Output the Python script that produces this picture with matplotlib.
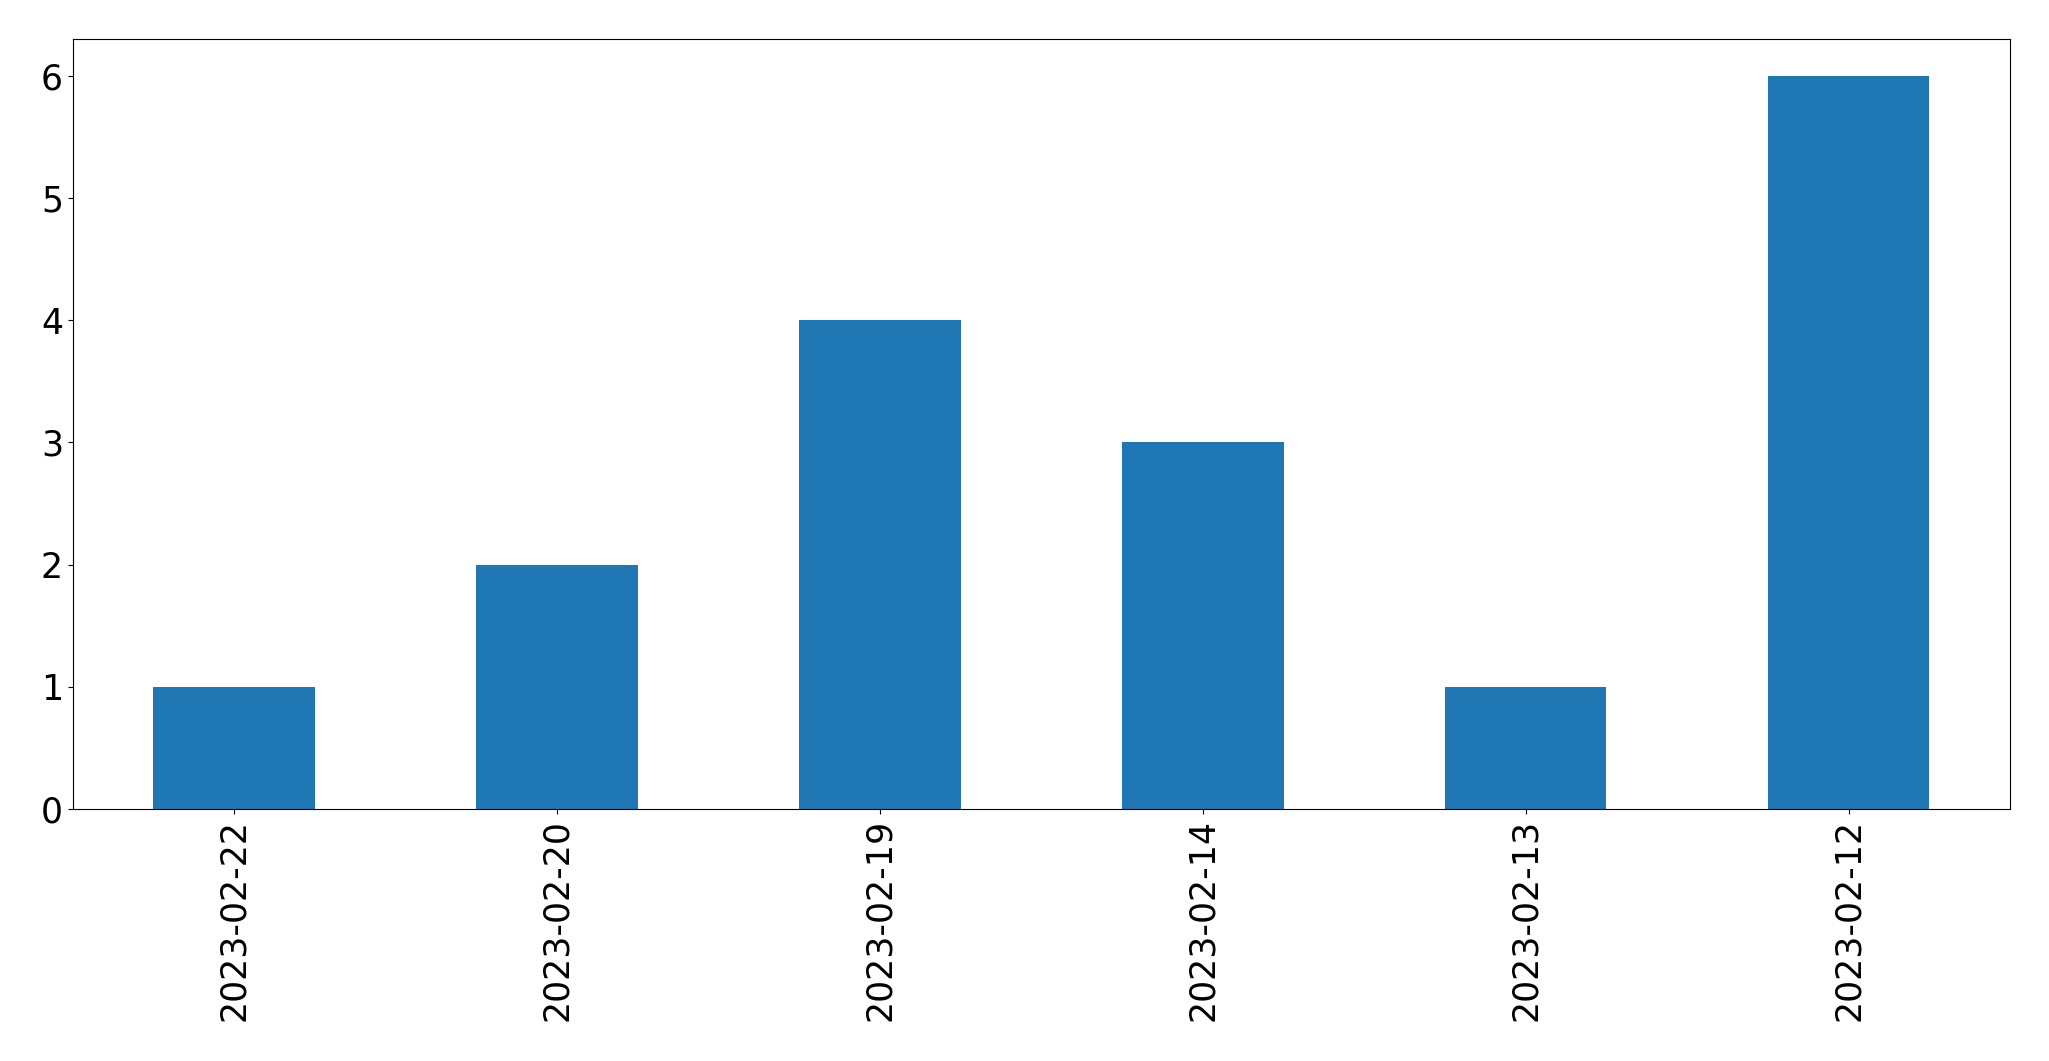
import matplotlib
matplotlib.use("Agg")
import matplotlib.pyplot as plt

dates = ["2023-02-22", "2023-02-20", "2023-02-19", "2023-02-14", "2023-02-13", "2023-02-12"]
counts = [1, 2, 4, 3, 1, 6]

fig = plt.figure(figsize=(20.49, 10.61), dpi=100)
ax = fig.add_axes([0.0355, 0.2375, 0.9455, 0.7255])
x = list(range(len(dates)))
ax.bar(x, counts, width=0.5, color="#1f77b4")
ax.set_xlim(-0.5, len(dates) - 0.5)
ax.set_ylim(0, max(counts) * 1.05)
ax.set_xticks(x)
ax.set_xticklabels(dates, rotation=90)
ax.tick_params(labelsize=25)
fig.savefig("out.png", dpi=100)
